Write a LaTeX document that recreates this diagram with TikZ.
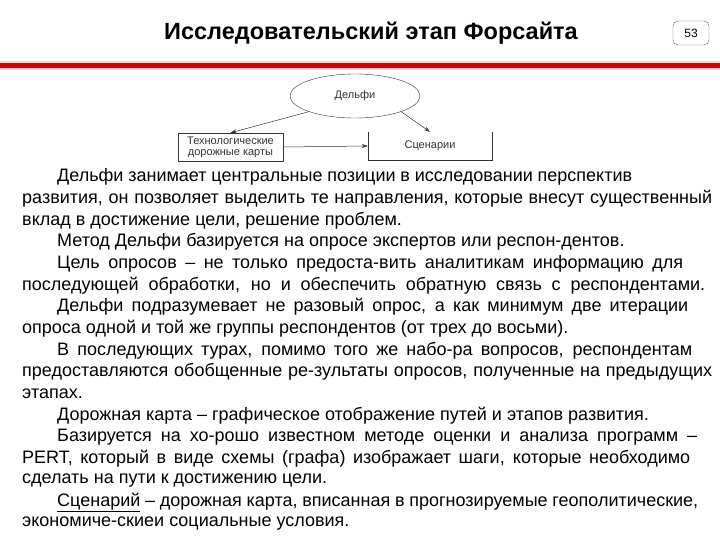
\documentclass[tikz,border=0pt]{standalone}
\usepackage{fontspec}
\setmainfont{Liberation Sans}
\usetikzlibrary{shapes.geometric,arrows.meta}
\begin{document}
\begin{tikzpicture}[x=1pt,y=-1pt,
  txt/.style={anchor=west,inner sep=0pt,font=\fontsize{18}{20}\selectfont},
  diag/.style={font=\fontsize{11}{12}\selectfont,text=black!80},
  arr/.style={-{Stealth[length=6pt,width=4pt]},black!80,line width=0.5pt}]
\useasboundingbox[fill=white] (0,0) rectangle (720,540);
\node[font=\bfseries\fontsize{23.5}{26}\selectfont] (title) at (371,33) {Исследовательский этап Форсайта};
\node[draw=black!60,rounded corners=5pt,minimum width=36pt,minimum height=24pt,inner sep=0pt,font=\fontsize{12}{14}\selectfont] (num) at (691,33) {53};
\fill[red!60!white,opacity=0.3] (0,61) rectangle (720,70);
\fill[red!85!black] (0,63) rectangle (720,68);
\node[draw=black!80,ellipse,minimum width=130pt,minimum height=44pt,diag] (delphi) at (355,96) {Дельфи};
\node[draw=black!80,minimum width=105pt,minimum height=28pt,inner sep=1pt,diag,align=center] (tech) at (230.5,147) {Технологические\\[-1pt]дорожные карты};
\node[minimum width=124pt,minimum height=28pt,diag] (scen) at (430,146) {Сценарии};
\draw[black!80] (scen.north west) -- (scen.south west) -- (scen.south east) -- (scen.north east);
\draw[arr] (delphi.south west) -- (tech.north);
\draw[arr] (delphi.south east) -- (scen.north);
\draw[arr] (tech.east) -- (scen.west);
\def\L#1#2{\makebox[#1pt][s]{#2}}
\node[txt] (l1) at (57,177) {\L{575}{Дельфи занимает центральные позиции в исследовании перспектив}};
\node[txt] (l2) at (22,198.7) {\L{690}{развития, он позволяет выделить те направления, которые внесут существенный}};
\node[txt] (l3) at (22,220.4) {вклад в достижение цели, решение проблем.};
\node[txt] (l4) at (57,242.1) {Метод Дельфи базируется на опросе экспертов или респон-дентов.};
\node[txt] (l5) at (57,263.8) {\L{626}{Цель опросов – не только предоста-вить аналитикам информацию для}};
\node[txt] (l6) at (22,285.5) {\L{683}{последующей обработки, но и обеспечить обратную связь с респондентами.}};
\node[txt] (l7) at (57,307.1) {\L{631}{Дельфи подразумевает не разовый опрос, а как минимум две итерации}};
\node[txt] (l8) at (22,328.8) {опроса одной и той же группы респондентов (от трех до восьми).};
\node[txt] (l9) at (57,350.5) {\L{635}{В последующих турах, помимо того же набо-ра вопросов, респондентам}};
\node[txt] (l10) at (22,372.2) {\L{690}{предоставляются обобщенные ре-зультаты опросов, полученные на предыдущих}};
\node[txt] (l11) at (22,393.9) {этапах.};
\node[txt] (l12) at (57,415.6) {Дорожная карта – графическое отображение путей и этапов развития.};
\node[txt] (l13) at (57,437.3) {\L{640}{Базируется на хо-рошо известном методе оценки и анализа программ –}};
\node[txt] (l14) at (22,459) {\L{668}{PERT, который в виде схемы (графа) изображает шаги, которые необходимо}};
\node[txt] (l15) at (22,480.6) {сделать на пути к достижению цели.};
\node[txt] (l16) at (57,502.3) {\L{641}{\underline{Сценарий} – дорожная карта, вписанная в прогнозируемые геополитические,}};
\node[txt] (l17) at (22,524) {экономиче-скиеи социальные условия.};
\end{tikzpicture}
\end{document}
